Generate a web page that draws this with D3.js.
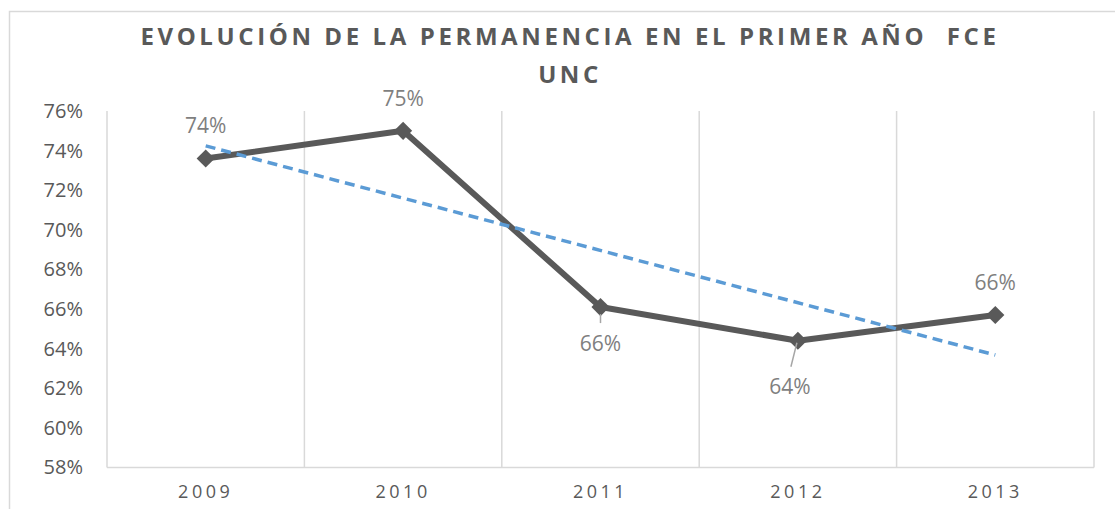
<!DOCTYPE html>
<html>
<head>
<meta charset="utf-8">
<script src="https://cdn.jsdelivr.net/npm/d3@7"></script>
<style>
  html, body { margin: 0; padding: 0; background: #fff; }
  svg { display: block; }
</style>
</head>
<body>
<svg id="chart" width="1115" height="509"></svg>
<script>
// ---- data ----
const categories = ["2009", "2010", "2011", "2012", "2013"];
const values = [73.6, 75.0, 66.1, 64.4, 65.7];
const dataLabels = ["74%", "75%", "66%", "64%", "66%"];
const yTicks = [58, 60, 62, 64, 66, 68, 70, 72, 74, 76];
const titleLines = ["EVOLUCIÓN DE LA PERMANENCIA EN EL PRIMER AÑO  FCE", "UNC"];

// ---- layout ----
const W = 1115, H = 509;
const plot = { left: 107, right: 1094, top: 111, bottom: 467.5 };
const gridColor = "#d9d9d9";
const textColor = "#595959";
const labelColor = "#7f7f7f";
const lineColor = "#595959";
const trendColor = "#5b9bd5";
const font = "'Open Sans', 'Noto Sans', sans-serif";

const svg = d3.select("#chart");

// chart border (extends past the right/bottom edge as in the reference)
svg.append("rect")
  .attr("x", 9.5).attr("y", 11.5)
  .attr("width", 1300).attr("height", 700)
  .attr("fill", "#fff")
  .attr("stroke", gridColor).attr("stroke-width", 1.5);

const x = d3.scaleBand().domain(categories).range([plot.left, plot.right]).padding(0);
const y = d3.scaleLinear().domain([58, 76]).range([plot.bottom, plot.top]);
const cx = d => x(d) + x.bandwidth() / 2;

// vertical gridlines at category boundaries
const bounds = categories.map(c => x(c)).concat([plot.right]);
svg.append("g").selectAll("line").data(bounds).join("line")
  .attr("x1", d => d).attr("x2", d => d)
  .attr("y1", plot.top).attr("y2", plot.bottom)
  .attr("stroke", gridColor).attr("stroke-width", 1.5);

// bottom axis line
svg.append("line")
  .attr("x1", plot.left).attr("x2", plot.right)
  .attr("y1", plot.bottom).attr("y2", plot.bottom)
  .attr("stroke", gridColor).attr("stroke-width", 1.5);

// y axis labels
const yAxis = d3.axisLeft(y).tickValues(yTicks).tickFormat(d => d + "%").tickSize(0).tickPadding(24);
const gy = svg.append("g").attr("transform", `translate(${plot.left},0)`).call(yAxis);
gy.select(".domain").remove();
gy.selectAll("text")
  .attr("fill", textColor)
  .style("font-family", font)
  .style("font-size", "20px");

// x axis labels
const xAxis = d3.axisBottom(x).tickSize(0).tickPadding(18);
const gx = svg.append("g").attr("transform", `translate(0,${plot.bottom})`).call(xAxis);
gx.select(".domain").remove();
gx.selectAll("text")
  .attr("fill", textColor)
  .style("font-family", font)
  .style("font-size", "18px")
  .style("letter-spacing", "3.5px");

// title
const title = svg.append("text")
  .attr("text-anchor", "middle")
  .attr("fill", textColor)
  .style("font-family", font)
  .style("font-weight", "bold")
  .style("font-size", "24px")
  .style("letter-spacing", "3.6px")
  .style("white-space", "pre");
title.selectAll("tspan").data(titleLines).join("tspan")
  .attr("x", 570)
  .attr("y", (d, i) => 45 + i * 38)
  .text(d => d);

// data series line
const pts = categories.map((c, i) => ({ c, v: values[i] }));
svg.append("path")
  .datum(pts)
  .attr("fill", "none")
  .attr("stroke", lineColor)
  .attr("stroke-width", 6)
  .attr("stroke-linejoin", "round")
  .attr("d", d3.line().x(d => cx(d.c)).y(d => y(d.v)));

// markers (diamonds)
svg.append("g").selectAll("path").data(pts).join("path")
  .attr("transform", d => `translate(${cx(d.c)},${y(d.v)})`)
  .attr("d", d3.symbol(d3.symbolDiamond2, 210)())
  .attr("fill", lineColor);

// linear trendline (least squares on the series)
const n = values.length;
const xs = values.map((_, i) => i + 1);
const mx = d3.mean(xs), my = d3.mean(values);
const slope = d3.sum(xs.map((xi, i) => (xi - mx) * (values[i] - my))) / d3.sum(xs.map(xi => (xi - mx) ** 2));
const icpt = my - slope * mx;
const trend = [0, n - 1].map(i => ({ c: categories[i], v: icpt + slope * (i + 1) }));
svg.append("path")
  .datum(trend)
  .attr("fill", "none")
  .attr("stroke", trendColor)
  .attr("stroke-width", 3.5)
  .attr("stroke-dasharray", "10,6")
  .attr("d", d3.line().x(d => cx(d.c)).y(d => y(d.v)));

// data labels
const labelOffsets = [[0, -33], [0, -32], [0, 37], [-8, 46], [0, -32]];
svg.append("g").selectAll("text").data(pts).join("text")
  .attr("x", (d, i) => cx(d.c) + labelOffsets[i][0])
  .attr("y", (d, i) => y(d.v) + labelOffsets[i][1])
  .attr("dy", "0.35em")
  .attr("text-anchor", "middle")
  .attr("fill", labelColor)
  .style("font-family", font)
  .style("font-size", "21px")
  .text((d, i) => dataLabels[i]);

// leader lines for labels placed away from the point
const leaders = [null, null, [[0, 7], [0, 16]], [[-1, 2], [-7, 26]], null];
svg.append("g").selectAll("line").data(pts.map((d, i) => ({ d, l: leaders[i] })).filter(o => o.l)).join("line")
  .attr("x1", o => cx(o.d.c) + o.l[0][0]).attr("y1", o => y(o.d.v) + o.l[0][1])
  .attr("x2", o => cx(o.d.c) + o.l[1][0]).attr("y2", o => y(o.d.v) + o.l[1][1])
  .attr("stroke", "#a6a6a6").attr("stroke-width", 1.5);
</script>
</body>
</html>
